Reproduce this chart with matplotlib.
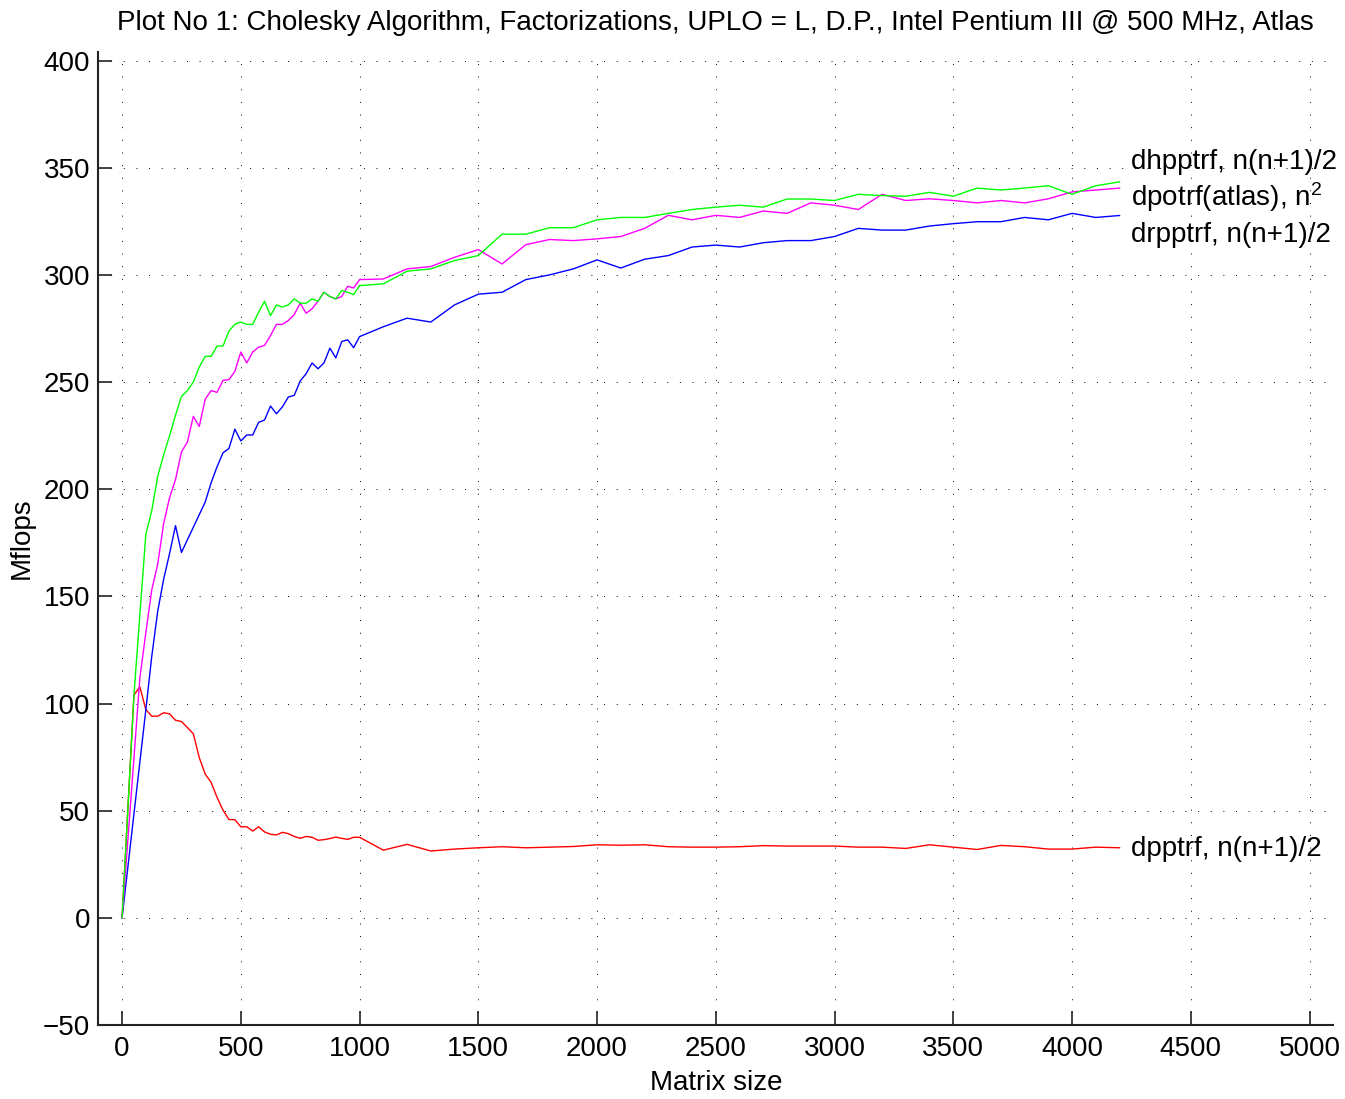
import matplotlib
matplotlib.use("Agg")
import matplotlib.pyplot as plt
from matplotlib.ticker import MultipleLocator

plt.rcParams['font.family'] = ['Liberation Sans', 'DejaVu Sans']
plt.rcParams['mathtext.fontset'] = 'custom'
plt.rcParams['mathtext.rm'] = 'Liberation Sans'
plt.rcParams['mathtext.it'] = 'Liberation Sans'

# ---- data ----
x_hpp = [0, 50, 100, 125, 150, 175, 200, 225, 250, 275, 300, 325, 350, 375, 400, 425,
         450, 475, 500, 525, 550, 575, 600, 625, 650, 675, 700, 725, 750, 775, 800,
         825, 850, 875, 900, 925, 950, 975, 1000, 1100, 1200, 1300, 1400, 1500, 1600,
         1700, 1800, 1900, 2000, 2100, 2200, 2300, 2400, 2500, 2600, 2700, 2800, 2900,
         3000, 3100, 3200, 3300, 3400, 3500, 3600, 3700, 3800, 3900, 4000, 4100, 4200]
y_hpp = [0, 104, 179, 190, 206, 216, 225, 234.5, 243.3, 246, 250, 257, 262, 262, 266.8,
         266.8, 273.8, 276.9, 278, 276.9, 276.9, 282.6, 287.7, 281, 286, 285, 286, 288.8,
         286.8, 286.8, 288.8, 287.7, 291.9, 289.9, 288.8, 292.7, 291.9, 290.8, 295,
         295.8, 301.7, 302.8, 306.7, 309, 319, 319, 322, 322, 325.7, 326.8, 326.8, 328.7,
         330.5, 331.6, 332.5, 331.6, 335.4, 335.4, 334.7, 337.6, 337, 336.7, 338.5,
         336.7, 340.5, 339.6, 340.5, 341.6, 337.6, 341.6, 343.4]

x_po = [0, 75, 100, 125, 150, 175, 200, 225, 250, 275, 300, 325, 350, 375, 400, 425,
        450, 475, 500, 525, 550, 575, 600, 625, 650, 675, 700, 725, 750, 775, 800,
        825, 850, 875, 900, 925, 950, 975, 1000, 1100, 1200, 1300, 1400, 1500, 1600,
        1700, 1800, 1900, 2000, 2100, 2200, 2300, 2400, 2500, 2600, 2700, 2800, 2900,
        3000, 3100, 3200, 3300, 3400, 3500, 3600, 3700, 3800, 3900, 4000, 4100, 4200]
y_po = [0, 112, 133, 153, 165, 184, 196, 204.5, 217.4, 222, 234, 229.3, 242, 246, 245.2,
        250.8, 251.1, 255, 264, 258.9, 264, 266.3, 267.1, 271.7, 276.9, 276.9, 278.7,
        281.5, 286.8, 282.1, 284.2, 287.7, 291.9, 289.9, 288.8, 289.9, 294.7, 293.9,
        297.8, 298.1, 302.8, 303.9, 308.2, 311.8, 305.1, 314.1, 316.5, 316, 316.8,
        317.9, 321.7, 327.8, 325.7, 327.8, 326.8, 329.8, 328.7, 333.6, 332.5, 330.5,
        337.6, 334.7, 335.5, 334.7, 333.6, 334.7, 333.6, 335.5, 338.7, 339.6, 340.5]

x_rp = [0, 100, 125, 150, 175, 200, 225, 250, 350, 375, 400, 425, 450, 475, 500, 525,
        550, 575, 600, 625, 650, 675, 700, 725, 750, 775, 800, 825, 850, 875, 900,
        925, 950, 975, 1000, 1100, 1200, 1300, 1400, 1500, 1600, 1700, 1800, 1900,
        2000, 2100, 2200, 2300, 2400, 2500, 2600, 2700, 2800, 2900, 3000, 3100, 3200,
        3300, 3400, 3500, 3600, 3700, 3800, 3900, 4000, 4100, 4200]
y_rp = [0, 97, 122, 143, 158, 170, 183, 170.5, 194, 203, 210.5, 217, 219, 228, 222.5,
        225.3, 225.3, 231.2, 232.3, 238.8, 235.2, 238.4, 243, 243.8, 250.5, 253.9,
        258.9, 256.2, 258.9, 265.8, 261.3, 268.9, 269.7, 266, 271.2, 275.8, 279.8, 278,
        286, 291, 291.9, 297.8, 300, 302.8, 307, 303.2, 307.3, 309, 313, 313.9, 313,
        315, 316, 316, 317.9, 321.7, 320.9, 320.9, 322.8, 323.9, 324.8, 324.8, 326.8,
        325.7, 328.7, 326.8, 327.7]

x_pp = [0, 50, 75, 100, 125, 150, 175, 200, 225, 250, 275, 300, 325, 350, 375, 400, 425,
        450, 475, 500, 525, 550, 575, 600, 625, 650, 675, 700, 725, 750, 775, 800,
        825, 850, 875, 900, 925, 950, 975, 1000, 1100, 1200, 1300, 1400, 1500, 1600,
        1700, 1800, 1900, 2000, 2100, 2200, 2300, 2400, 2500, 2600, 2700, 2800, 2900,
        3000, 3100, 3200, 3300, 3400, 3500, 3600, 3700, 3800, 3900, 4000, 4100, 4200]
y_pp = [0, 104, 107.8, 97.2, 94.1, 94.1, 95.7, 95.2, 92.2, 91.6, 88.8, 85.9, 74.8, 67.1,
        63.2, 56.2, 50.3, 45.9, 45.8, 42.5, 42.5, 40.5, 42.5, 40.1, 39.0, 38.7, 39.9,
        39.3, 38.0, 37.1, 38.0, 37.6, 36.2, 36.5, 37.0, 37.7, 37.1, 36.6, 37.6, 37.6,
        31.6, 34.3, 31.2, 32.1, 32.7, 33.2, 32.7, 33.0, 33.3, 34.1, 33.9, 34.1, 33.2,
        33.0, 33.0, 33.2, 33.7, 33.5, 33.5, 33.5, 33.0, 33.0, 32.4, 34.1, 33.0, 31.9,
        33.8, 33.2, 32.1, 32.1, 33.0, 32.7]

labels = ["dhpptrf, n(n+1)/2", "dpotrf(atlas), n$^2$", "drpptrf, n(n+1)/2", "dpptrf, n(n+1)/2"]
label_y = [352.9, 336.5, 318.8, 32.2]
label_x = 4250

title = "Plot No 1: Cholesky Algorithm, Factorizations, UPLO = L, D.P., Intel Pentium III @ 500 MHz, Atlas"

# ---- figure ----
fig = plt.figure(figsize=(13.45, 10.99), dpi=100)
ax = fig.add_axes([0.0731, 0.0673, 0.9182, 0.8854])

ax.plot(x_pp, y_pp, color=(1, 0, 0), lw=1.0)
ax.plot(x_rp, y_rp, color=(0, 0, 1), lw=1.0)
ax.plot(x_po, y_po, color=(1, 0, 1), lw=1.0)
ax.plot(x_hpp, y_hpp, color=(0, 1, 0), lw=1.0)

for lab, ly in zip(labels, label_y):
    ax.text(label_x, ly, lab, fontsize=20, va='center', ha='left', color='black')

ax.set_xlim(-100, 5100)
ax.set_ylim(-50, 404)
ax.xaxis.set_major_locator(MultipleLocator(500))
ax.yaxis.set_major_locator(MultipleLocator(50))
ax.set_axisbelow(True)
ax.grid(True, color='black', linestyle=(0, (1, 12)), linewidth=0.7)

for s in ['top', 'right']:
    ax.spines[s].set_visible(False)
for s in ['left', 'bottom']:
    ax.spines[s].set_linewidth(1.5)
    ax.spines[s].set_color('#222222')

ax.tick_params(axis='both', direction='in', length=10, width=1.2, labelsize=20, color='#222222')
ax.tick_params(axis='x', pad=8)
ax.tick_params(axis='y', pad=6)

ax.set_xlabel("Matrix size", fontsize=20, labelpad=6)
ax.set_ylabel("Mflops", fontsize=20, labelpad=6)
ax.set_title(title, fontsize=20, pad=16)

fig.savefig("out.png", dpi=100)
